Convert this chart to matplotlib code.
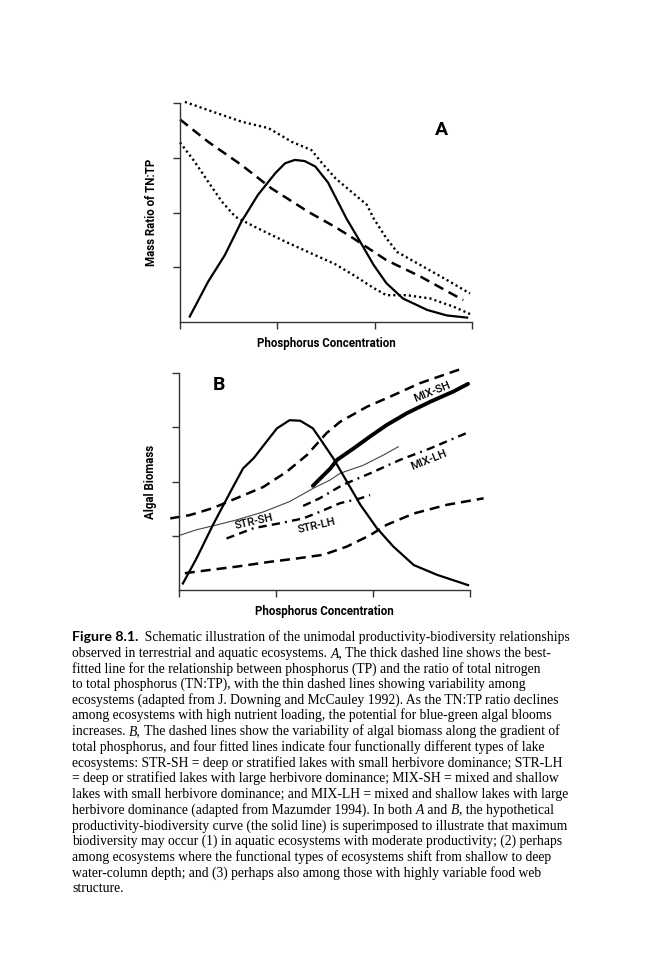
import matplotlib
matplotlib.use("Agg")
import matplotlib.pyplot as plt

# ---- Panel A: TN:TP ratio vs phosphorus ----
a_upper_x = [0.05, 0.29, 0.63, 0.91, 1.15, 1.35, 1.46, 1.60, 1.92, 1.99, 2.12, 2.23, 2.47, 2.74, 2.98]
a_upper_y = [4.02, 3.87, 3.66, 3.54, 3.29, 3.14, 2.90, 2.62, 2.14, 1.89, 1.53, 1.28, 1.04, 0.77, 0.52]
a_fit_x = [0.0, 0.29, 0.63, 0.94, 1.32, 1.59, 1.78, 2.12, 2.47, 2.91]
a_fit_y = [3.70, 3.29, 2.87, 2.44, 2.01, 1.74, 1.53, 1.13, 0.83, 0.40]
a_lower_x = [0.0, 0.15, 0.29, 0.43, 0.57, 0.80, 1.08, 1.39, 1.59, 1.78, 1.99, 2.12, 2.33, 2.57, 2.81, 3.0]
a_lower_y = [3.28, 2.93, 2.56, 2.20, 1.92, 1.71, 1.47, 1.22, 1.06, 0.86, 0.62, 0.49, 0.49, 0.43, 0.28, 0.13]
a_hump_x = [0.10, 0.29, 0.46, 0.63, 0.80, 0.98, 1.08, 1.18, 1.28, 1.39, 1.52, 1.71, 1.85, 1.99,
            2.12, 2.29, 2.54, 2.74, 2.95]
a_hump_y = [0.10, 0.74, 1.22, 1.83, 2.32, 2.72, 2.90, 2.96, 2.94, 2.84, 2.55, 1.89, 1.47, 1.04,
            0.71, 0.43, 0.22, 0.12, 0.08]

# ---- Panel B: algal biomass vs phosphorus ----
b_upper_x = [-0.09, 0.11, 0.35, 0.59, 0.87, 1.11, 1.32, 1.52, 1.66, 1.94, 2.21, 2.48, 2.90]
b_upper_y = [1.32, 1.38, 1.51, 1.69, 1.90, 2.18, 2.49, 2.89, 3.10, 3.38, 3.59, 3.81, 4.07]
b_lower_x = [0.06, 0.32, 0.59, 0.94, 1.21, 1.49, 1.73, 1.97, 2.14, 2.42, 2.76, 3.14]
b_lower_y = [0.31, 0.37, 0.43, 0.52, 0.58, 0.65, 0.80, 1.01, 1.20, 1.41, 1.57, 1.69]
str_sh_x = [0.01, 0.18, 0.39, 0.59, 0.87, 1.14, 1.38, 1.56, 1.66, 1.90, 2.11, 2.26]
str_sh_y = [1.01, 1.11, 1.20, 1.29, 1.44, 1.63, 1.87, 2.03, 2.15, 2.30, 2.49, 2.64]
mix_sh_x = [1.38, 1.56, 1.63, 1.80, 1.97, 2.14, 2.35, 2.59, 2.83, 2.98]
mix_sh_y = [1.92, 2.24, 2.40, 2.61, 2.83, 3.04, 3.26, 3.47, 3.66, 3.80]
str_lh_x = [0.49, 0.77, 1.04, 1.28, 1.45, 1.66, 1.87, 1.97]
str_lh_y = [0.95, 1.14, 1.23, 1.32, 1.44, 1.60, 1.69, 1.75]
mix_lh_x = [1.28, 1.45, 1.69, 1.97, 2.28, 2.59, 3.00]
mix_lh_y = [1.55, 1.69, 1.94, 2.15, 2.40, 2.61, 2.92]
b_hump_x = [0.04, 0.18, 0.35, 0.53, 0.66, 0.77, 0.90, 1.01, 1.14, 1.25, 1.38, 1.45, 1.59, 1.73,
            1.87, 2.04, 2.21, 2.42, 2.66, 2.98]
b_hump_y = [0.12, 0.58, 1.20, 1.81, 2.24, 2.43, 2.73, 2.98, 3.13, 3.12, 2.98, 2.80, 2.43, 2.00,
            1.57, 1.14, 0.80, 0.46, 0.28, 0.09]

x_ticks = [0, 1, 2, 3]
y_ticks = [1, 2, 3, 4]

caption_lines = [
    [("Figure 8.1.", "fig"), ("  Schematic illustration of the unimodal productivity-biodiversity relationships", "r")],
    [("observed in terrestrial and aquatic ecosystems. ", "r"), ("A,", "i"), (" The thick dashed line shows the best-", "r")],
    [("fitted line for the relationship between phosphorus (TP) and the ratio of total nitrogen", "r")],
    [("to total phosphorus (TN:TP), with the thin dashed lines showing variability among", "r")],
    [("ecosystems (adapted from J. Downing and McCauley 1992). As the TN:TP ratio declines", "r")],
    [("among ecosystems with high nutrient loading, the potential for blue-green algal blooms", "r")],
    [("increases. ", "r"), ("B,", "i"), (" The dashed lines show the variability of algal biomass along the gradient of", "r")],
    [("total phosphorus, and four fitted lines indicate four functionally different types of lake", "r")],
    [("ecosystems: STR-SH = deep or stratified lakes with small herbivore dominance; STR-LH", "r")],
    [("= deep or stratified lakes with large herbivore dominance; MIX-SH = mixed and shallow", "r")],
    [("lakes with small herbivore dominance; and MIX-LH = mixed and shallow lakes with large", "r")],
    [("herbivore dominance (adapted from Mazumder 1994). In both ", "r"), ("A", "i"), (" and ", "r"),
     ("B", "i"), (", the hypothetical", "r")],
    [("productivity-biodiversity curve (the solid line) is superimposed to illustrate that maximum", "r")],
    [("biodiversity may occur (1) in aquatic ecosystems with moderate productivity; (2) perhaps", "r")],
    [("among ecosystems where the functional types of ecosystems shift from shallow to deep", "r")],
    [("water-column depth; and (3) perhaps also among those with highly variable food web", "r")],
    [("structure.", "r")],
]

W, H = 650, 975
fig = plt.figure(figsize=(6.5, 9.75), dpi=100)
fig.patch.set_facecolor("white")

label_font = {"family": ["Roboto", "DejaVu Sans"], "weight": "bold", "size": 8.3}
dash = (0, (4, 2.4))
dot = (0, (0.9, 1.3))
dashdot = (0, (3.5, 2.2, 3.5, 2.2, 0.8, 2.2))


def make_axes(left, right, bottom, top, ylabel):
    ax = fig.add_axes([left / W, 1 - bottom / H, (right - left) / W, (bottom - top) / H])
    ax.set_xlim(0, 3)
    ax.set_ylim(0, 4)
    for s in ["top", "right"]:
        ax.spines[s].set_visible(False)
    for s in ["left", "bottom"]:
        ax.spines[s].set_linewidth(1.0)
        ax.spines[s].set_color("#333333")
    ax.set_xticks(x_ticks)
    ax.set_yticks(y_ticks)
    ax.tick_params(direction="out", length=5, width=1.0, color="#333333",
                   labelbottom=False, labelleft=False)
    ax.set_xlabel("Phosphorus Concentration", fontdict=label_font, labelpad=6)
    ax.set_ylabel(ylabel, fontdict=label_font, labelpad=11)
    return ax


# Panel A
axA = make_axes(180, 472, 322, 103, "Mass Ratio of TN:TP")
axA.plot(a_upper_x, a_upper_y, color="black", lw=1.7, linestyle=dot, clip_on=False)
axA.plot(a_lower_x, a_lower_y, color="black", lw=1.7, linestyle=dot, clip_on=False)
axA.plot(a_fit_x, a_fit_y, color="black", lw=1.8, linestyle=dash, clip_on=False)
axA.plot(a_hump_x, a_hump_y, color="black", lw=1.6, clip_on=False)
axA.text(2.69, 3.51, "A", fontsize=14, fontweight="bold", ha="center", va="center",
         family=["Roboto", "DejaVu Sans"])

# Panel B
axB = make_axes(179, 470, 590, 373, "Algal Biomass")
axB.plot(b_upper_x, b_upper_y, color="black", lw=1.8, linestyle=dash, clip_on=False)
axB.plot(b_lower_x, b_lower_y, color="black", lw=1.8, linestyle=dash, clip_on=False)
axB.plot(str_sh_x, str_sh_y, color="#444444", lw=0.8, clip_on=False)
axB.plot(mix_sh_x, mix_sh_y, color="black", lw=2.8, solid_capstyle="round", clip_on=False)
axB.plot(str_lh_x, str_lh_y, color="black", lw=1.7, linestyle=dashdot, clip_on=False)
axB.plot(mix_lh_x, mix_lh_y, color="black", lw=1.7, linestyle=dashdot, clip_on=False)
axB.plot(b_hump_x, b_hump_y, color="black", lw=1.6, clip_on=False)
axB.text(0.41, 3.78, "B", fontsize=14, fontweight="bold", ha="center", va="center",
         family=["Roboto", "DejaVu Sans"])

tag_font = {"family": ["Roboto", "DejaVu Sans"], "weight": "medium", "size": 8.2}
axB.text(2.61, 3.66, "MIX-SH", rotation=22, ha="center", va="center", fontdict=tag_font)
axB.text(2.57, 2.40, "MIX-LH", rotation=22, ha="center", va="center", fontdict=tag_font)
axB.text(0.77, 1.26, "STR-SH", rotation=13, ha="center", va="center", fontdict=tag_font)
axB.text(1.42, 1.18, "STR-LH", rotation=13, ha="center", va="center", fontdict=tag_font)

# Caption, drawn segment by segment so bold / italic runs line up
styles = {
    "fig": dict(family=["Lato", "DejaVu Sans"], fontweight="bold", fontsize=10.2),
    "r": dict(family=["Liberation Serif", "DejaVu Serif"], fontsize=9.8),
    "i": dict(family=["Liberation Serif", "DejaVu Serif"], fontstyle="italic", fontsize=9.8),
}
renderer = fig.canvas.get_renderer()
x0, base0, step = 72, 641, 15.7
for i, line in enumerate(caption_lines):
    xpx = x0
    ypx = base0 + i * step
    for txt, st in line:
        t = fig.text(xpx / W, 1 - ypx / H, txt, va="baseline", ha="left", **styles[st])
        bb = t.get_window_extent(renderer=renderer)
        xpx = bb.x1

fig.savefig("out.png", dpi=100, facecolor="white")
